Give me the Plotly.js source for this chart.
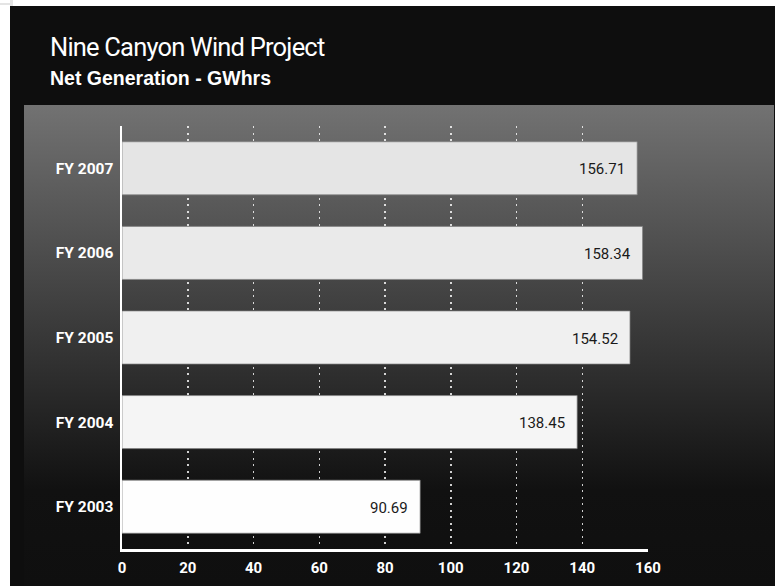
<!DOCTYPE html>
<html>
<head>
<meta charset="utf-8">
<script src="https://cdn.plot.ly/plotly-3.0.1.min.js"></script>
<style>
  html, body { margin: 0; padding: 0; background: #ffffff; width: 778px; height: 586px; overflow: hidden; }
  #frame { position: absolute; left: 10px; top: 6px; width: 765px; height: 580px; background: #0e0e0e; }
  #grad { position: absolute; left: 24px; top: 105px; width: 750px; height: 481px;
          background: linear-gradient(to bottom, #727272 0%, #111111 80%, #0f0f0f 100%); }
  #sh1 { position: absolute; left: 0; top: 3px; width: 10px; height: 2px; background: #e4e4e4; }
  #sh2 { position: absolute; left: 10px; top: 0; width: 3px; height: 6px; background: #e4e4e4; }
  #chart { position: absolute; left: 0; top: 0; width: 778px; height: 586px; }
</style>
</head>
<body>
<div id="sh1"></div><div id="sh2"></div>
<div id="frame"></div>
<div id="grad"></div>
<div id="chart"></div>
<script>
// ---- data ----
var categories = ['FY 2003', 'FY 2004', 'FY 2005', 'FY 2006', 'FY 2007'];
var values = [90.69, 138.45, 154.52, 158.34, 156.71];
var valueLabels = ['90.69', '138.45', '154.52', '158.34', '156.71'];
var tickValues = [0, 20, 40, 60, 80, 100, 120, 140, 160];
var tickLabels = ['0', '20', '40', '60', '80', '100', '120', '140', '160'];
var titleText = 'Nine Canyon Wind Project';
var subtitleText = 'Net Generation - GWhrs';

// ---- styles ----
var barColors = ['#fefefe', '#f5f5f5', '#f0f0f0', '#eaeaea', '#e5e5e5'];
var FONT = 'Roboto, "Liberation Sans", sans-serif';
var WIDE = '"Liberation Sans", Arial, sans-serif';

var L = 122, R = 648, T = 126, B = 549, W = 778, H = 586;
function px2x(p) { return (p - L) / (R - L); }
function py2y(p) { return (B - p) / (B - T); }

var annotations = [];
for (var i = 0; i < categories.length; i++) {
  annotations.push({
    x: values[i], y: categories[i], xref: 'x', yref: 'y',
    text: valueLabels[i], showarrow: false,
    xanchor: 'right', yanchor: 'middle', xshift: -10, yshift: -1,
    font: { family: FONT, size: 15, color: '#1a1a1a' }
  });
}
annotations.push({
  x: px2x(48), y: py2y(47), xref: 'paper', yref: 'paper',
  text: '<span style="letter-spacing:-0.8px">' + titleText + '</span>', showarrow: false,
  xanchor: 'left', yanchor: 'middle',
  font: { family: FONT, size: 25.5, color: '#ffffff', weight: 400 }
});
annotations.push({
  x: px2x(48), y: py2y(78), xref: 'paper', yref: 'paper',
  text: subtitleText, showarrow: false, xanchor: 'left', yanchor: 'middle',
  font: { family: WIDE, size: 19.5, color: '#ffffff', weight: 'bold' }
});

var trace = {
  type: 'bar', orientation: 'h',
  x: values, y: categories,
  marker: { color: barColors, line: { width: 1, color: 'rgba(130,130,130,0.7)' } },
  hoverinfo: 'none'
};

var layout = {
  width: W, height: H,
  margin: { l: L, r: W - R, t: T, b: H - B, pad: 0 },
  paper_bgcolor: 'rgba(0,0,0,0)',
  plot_bgcolor: 'rgba(0,0,0,0)',
  showlegend: false,
  bargap: 0.373,
  xaxis: {
    range: [0, 160], tickvals: tickValues, ticktext: tickLabels,
    showgrid: true, gridcolor: 'rgba(255,255,255,0.8)', gridwidth: 1.5, griddash: '2px,4.5px',
    zeroline: false, showline: true, linecolor: '#ffffff', linewidth: 3,
    ticks: '', ticklabelstandoff: 3,
    tickfont: { family: FONT, size: 15, color: '#ffffff', weight: 'bold' },
    fixedrange: true
  },
  yaxis: {
    type: 'category', categoryorder: 'array', categoryarray: categories,
    range: [-0.5, 4.5],
    showgrid: false, zeroline: false, showline: true, linecolor: '#ffffff', linewidth: 2.5,
    ticks: '', ticklabelstandoff: 3,
    tickfont: { family: FONT, size: 15.5, color: '#ffffff', weight: 'bold' },
    fixedrange: true
  },
  annotations: annotations
};

Plotly.newPlot('chart', [trace], layout, { displayModeBar: false, staticPlot: true });
</script>
</body>
</html>
